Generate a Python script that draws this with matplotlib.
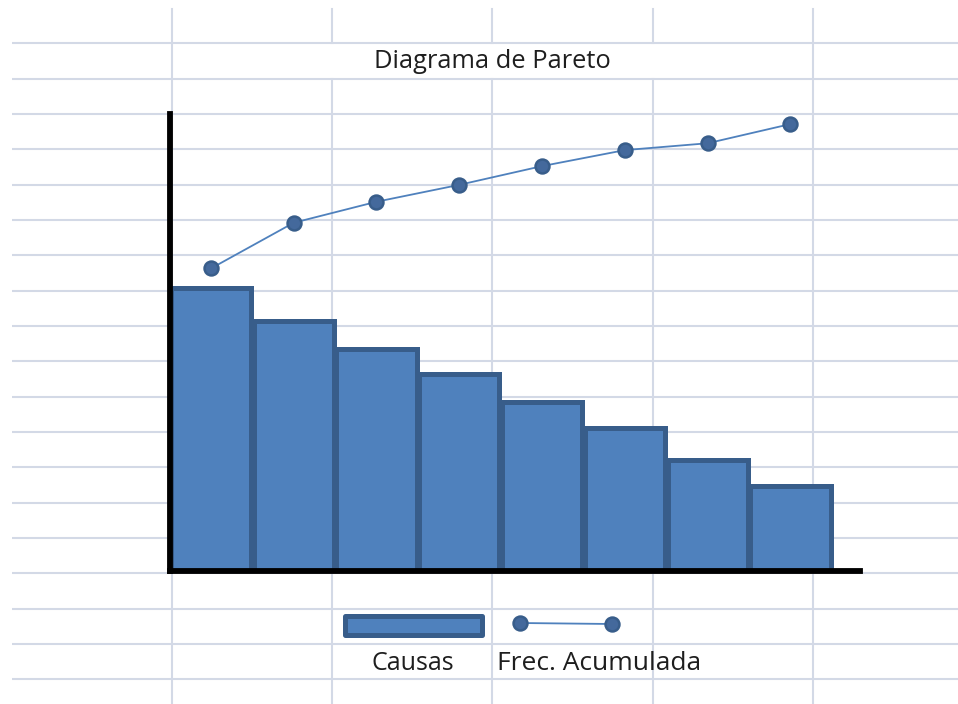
import numpy as np
import matplotlib
matplotlib.use("Agg")
import matplotlib.pyplot as plt
from matplotlib.patches import Rectangle
from matplotlib.lines import Line2D

# Pareto data: causes (sorted), their frequency and the accumulated frequency
causas = ["C1", "C2", "C3", "C4", "C5", "C6", "C7", "C8"]
frecuencia = [62.0, 54.8, 48.5, 43.0, 36.9, 31.2, 24.2, 18.5]
frec_acumulada = [66.2, 76.2, 80.8, 84.5, 88.6, 92.1, 93.6, 97.8]

titulo = "Diagrama de Pareto"
etiqueta_barras = "Causas"
etiqueta_linea = "Frec. Acumulada"

W, H = 958, 704
FILL = "#4f81bd"
EDGE = "#385d8a"
GRID = "#d3d9e6"
TEXT = "#1e1e1e"
FONT = "Open Sans"

fig = plt.figure(figsize=(W / 100, H / 100), dpi=100)
fig.patch.set_facecolor("white")

# Worksheet background in pixel coordinates
bg = fig.add_axes([0, 0, 1, 1])
bg.set_xlim(0, W)
bg.set_ylim(H, 0)
bg.axis("off")

row_h = 35.33
rows = 43.3 + row_h * np.arange(19)
cols = 171.7 + 160.3 * np.arange(5)
for y in rows:
    bg.plot([12, W], [y, y], color=GRID, lw=1.5, zorder=0, solid_capstyle="butt")
for i, x in enumerate(cols):
    if 0 < i < 4:
        # title cell is merged across the inner columns
        bg.plot([x, x], [9, rows[0]], color=GRID, lw=1.5, zorder=0)
        bg.plot([x, x], [rows[1], H], color=GRID, lw=1.5, zorder=0)
    else:
        bg.plot([x, x], [9, H], color=GRID, lw=1.5, zorder=0)

bg.text((cols[0] + cols[-1]) / 2, 62, titulo, ha="center", va="center",
        fontsize=18.4, color=TEXT, family=FONT)

# Legend drawn as worksheet-style entries
bg.add_patch(Rectangle((345.5, 615.5), 137, 19, facecolor=FILL, edgecolor=EDGE,
                       lw=3.6, joinstyle="round", zorder=2))
bg.add_line(Line2D([520, 612], [623, 624], color=FILL, lw=1.3, zorder=2))
bg.add_line(Line2D([520, 612], [623, 624], ls="none", marker="o", ms=10,
                   mfc="#44699c", mec=EDGE, mew=1.8, zorder=3))
bg.text(413, 663, etiqueta_barras, ha="center", va="center",
        fontsize=18, color=TEXT, family=FONT)
bg.text(497, 663, etiqueta_linea, ha="left", va="center",
        fontsize=19, color=TEXT, family=FONT)

# Chart plot area
left, right, top, base = 169.5, 860.5, 114.0, 571.0
ax = fig.add_axes([left / W, 1 - base / H, (right - left) / W, (base - top) / H])
ax.patch.set_alpha(0)

x = np.arange(len(causas))
ax.bar(x, frecuencia, width=0.97, color=FILL, edgecolor=EDGE, linewidth=3.6,
       zorder=2)
ax.plot(x, frec_acumulada, color=FILL, lw=1.3, zorder=3)
ax.plot(x, frec_acumulada, ls="none", marker="o", ms=10, mfc="#44699c",
        mec=EDGE, mew=1.8, zorder=4)

ax.set_xlim(-0.5, -0.5 + (right - left) / 82.8)
ax.set_ylim(0, 100)
ax.set_xticks([])
ax.set_yticks([])
for s in ("top", "right"):
    ax.spines[s].set_visible(False)
for s in ("left", "bottom"):
    ax.spines[s].set_linewidth(4.2)
    ax.spines[s].set_color("black")
    ax.spines[s].set_zorder(5)

fig.savefig("out.png", dpi=100, facecolor="white")
